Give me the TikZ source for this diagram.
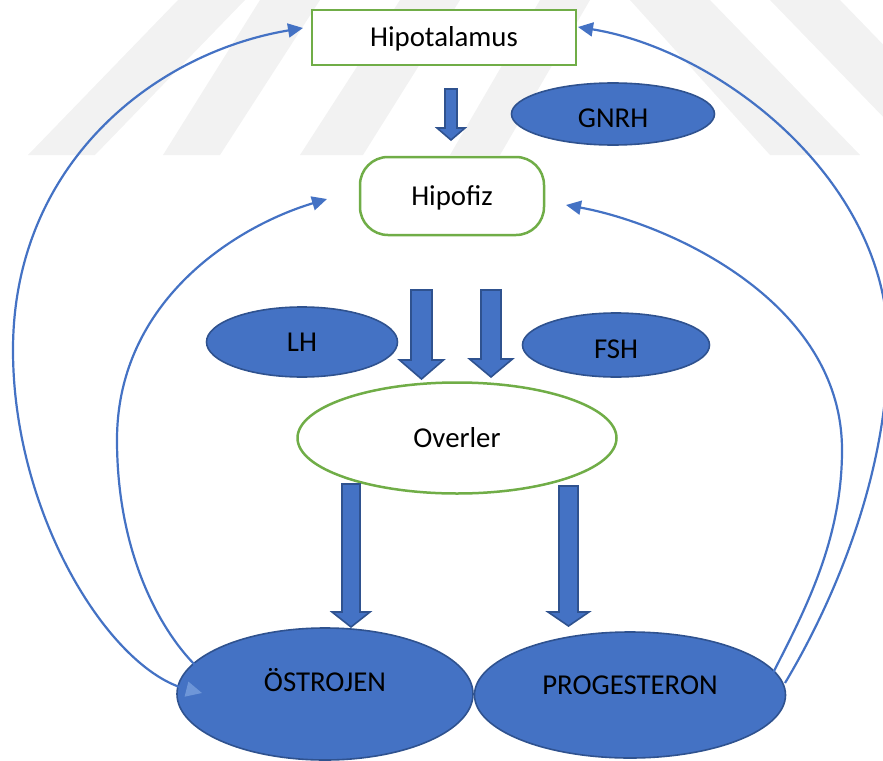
\documentclass[tikz,border=0pt]{standalone}
\usepackage{fontspec}
\setmainfont{Carlito}
\usetikzlibrary{shapes.geometric,arrows.meta}
\definecolor{accblue}{HTML}{4472C4}
\definecolor{darkblue}{HTML}{2F528F}
\definecolor{accgreen}{HTML}{70AD47}
\definecolor{lightarrow}{HTML}{6E96D8}
\definecolor{wmgray}{HTML}{F2F2F2}
\tikzset{
  lbl/.style={font=\fontsize{28.8}{34}\selectfont, text height=18.5pt, text depth=0pt, inner sep=0pt},
  greenbox/.style={lbl, draw=accgreen, line width=2.5pt, fill=white},
  greenellipse/.style={lbl, ellipse, draw=accgreen, line width=2.5pt, fill=white},
  blueellipse/.style={lbl, ellipse, draw=darkblue, line width=1.6pt, fill=accblue},
  blockarrow/.style={fill=accblue, draw=darkblue, line width=1.6pt, line join=miter},
  feedback/.style={draw=accblue, line width=2.2pt, -{Triangle[length=15pt,width=14pt]}},
  feedbackboth/.style={draw=accblue, line width=2.2pt, {Triangle[length=15pt,width=14pt]}-{Triangle[length=16pt,width=15pt,color=lightarrow,fill=lightarrow]}},
  wm/.style={fill=wmgray, draw=none}
}
\newcommand\barrow[6]{\filldraw[blockarrow] (#1-#3,#2) -- (#1+#3,#2) -- (#1+#3,#5) -- (#1+#4,#5) -- (#1,#6) -- (#1-#4,#5) -- (#1-#3,#5) -- cycle;}
\begin{document}
\begin{tikzpicture}[x=1pt,y=-1pt]
\useasboundingbox (0,0) rectangle (883,760);
\clip (0,0) rectangle (883,760);
% faint watermark stripes
\fill[wm] (28,155) -- (95,155) -- (245,0) -- (178,0) -- cycle;
\fill[wm] (163,155) -- (220,155) -- (320,0) -- (260,0) -- cycle;
\fill[wm] (300,155) -- (363,155) -- (460,0) -- (400,0) -- cycle;
\fill[wm] (450,155) -- (500,155) -- (590,0) -- (540,0) -- cycle;
\fill[wm] (630,0) -- (710,0) -- (860,155) -- (770,155) -- cycle;
\fill[wm] (770,0) -- (840,0) -- (990,155) -- (920,155) -- cycle;

% nodes
\node[greenbox, minimum width=264pt, minimum height=55pt] (hipo) at (444,37.5) {Hipotalamus};
\node[greenbox, rounded corners=28pt, minimum width=184pt, minimum height=78pt] (hipof) at (452,196) {Hipofiz};
\node[blueellipse, minimum width=203pt, minimum height=62pt] (gnrh) at (613,114) {\raisebox{-4pt}{GNRH}};
\node[blueellipse, minimum width=191pt, minimum height=70pt] (lh) at (302,342) {LH};
\node[blueellipse, minimum width=187pt, minimum height=64pt] (fsh) at (616,345) {\raisebox{-4pt}{FSH}};
\node[greenellipse, minimum width=319pt, minimum height=111pt] (over) at (457,438) {Overler};
\node[blueellipse, minimum width=296pt, minimum height=132pt] (ost) at (325,694) {\raisebox{12pt}{ÖSTROJEN}};
\node[blueellipse, minimum width=311pt, minimum height=126pt] (prog) at (630,695) {\raisebox{10pt}{PROGESTERON}};

% block arrows
\barrow{451}{89}{6}{14}{128}{140}
\barrow{421.5}{290}{10.5}{22}{360}{379}
\barrow{491}{290}{10}{21.5}{359}{377}
\barrow{351}{484}{9}{19}{612}{627}
\barrow{568.5}{486}{9.5}{20.5}{612}{626}

% feedback coordinates
\coordinate (hipoL) at (303,28);
\coordinate (hipoR) at (578,27);
\coordinate (hipofL) at (327,199);
\coordinate (hipofR) at (566,205);
\coordinate (ostIn) at (202,693);
\coordinate (ostTop) at (196,666);
\coordinate (progR) at (785,683);
\coordinate (progTop) at (773,673);
\coordinate (wL) at (13,350);
\coordinate (wL2) at (117,440);
\coordinate (wR) at (888,345);
\coordinate (wR2) at (842,450);

% feedback curves
\draw[feedbackboth] (hipoL) .. controls (153,53) and (13,165) .. (wL) .. controls (13,515) and (110,670) .. (ostIn);
\draw[feedback] (ostTop) .. controls (158,628) and (117,550) .. (wL2) .. controls (117,300) and (237,226) .. (hipofL);
\draw[feedback] (progR) .. controls (821,623) and (888,490) .. (wR) .. controls (888,180) and (720,50) .. (hipoR);
\draw[feedback] (progTop) .. controls (805,610) and (842,540) .. (wR2) .. controls (842,300) and (666,223) .. (hipofR);
\end{tikzpicture}
\end{document}
